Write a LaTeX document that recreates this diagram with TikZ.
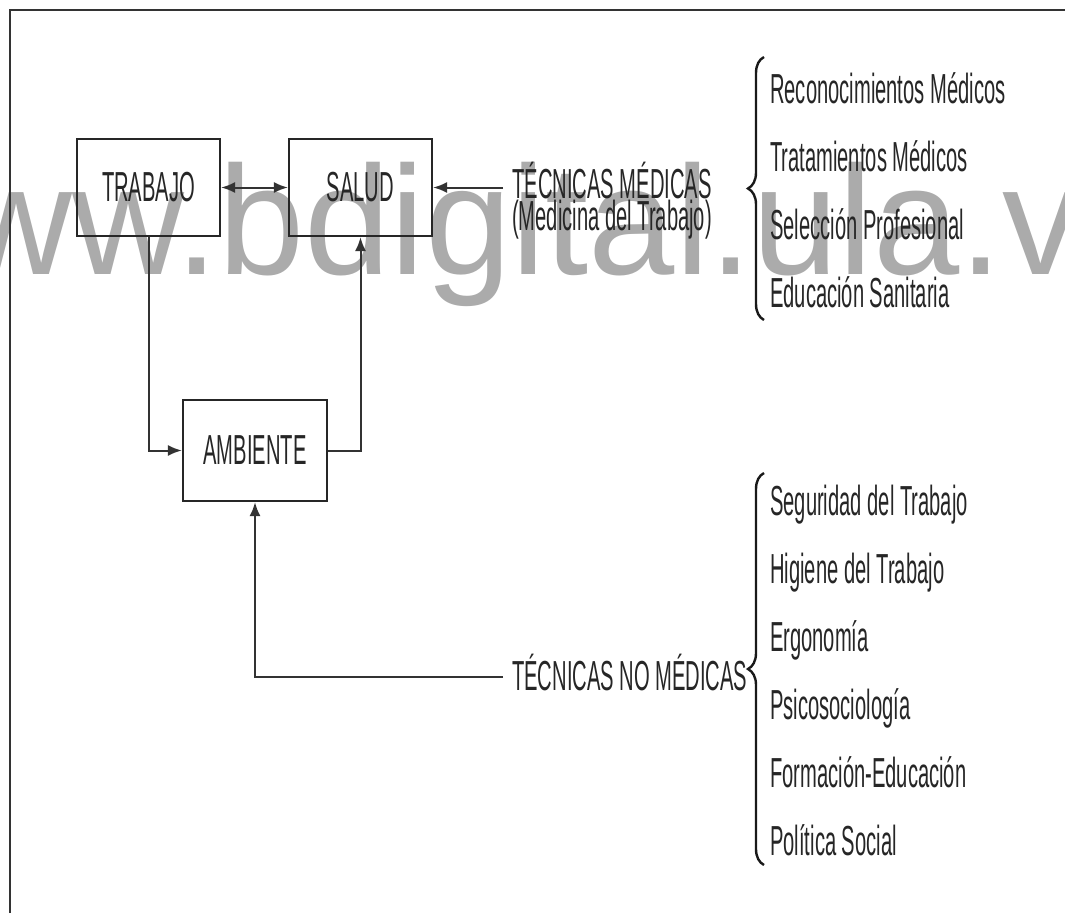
\documentclass[tikz,border=0pt]{standalone}
\usepackage{fontspec}
\setmainfont[FakeStretch=0.48]{Liberation Sans}
\newfontfamily\wmfont{Liberation Sans}
\usetikzlibrary{arrows.meta,decorations.pathreplacing,positioning}

\begin{document}
\begin{tikzpicture}[x=1pt,y=-1pt,
	boxnode/.style={rectangle,draw=black!85,line width=2.2pt,minimum width=143pt,minimum height=97pt,font=\fontsize{42}{32}\selectfont,text=black!85},
	textnode/.style={inner sep=0pt,font=\fontsize{42}{32}\selectfont,text=black!85},
	itemnode/.style={textnode,anchor=base west},
	link/.style={draw=black!80,line width=2pt},
	curly/.style={draw=black!90,line width=2.4pt,decorate,decoration={brace,amplitude=16pt}},
	>={Latex[length=14pt,width=11pt]}
	]
	\useasboundingbox (0,0) rectangle (1065,913);
	% watermark behind the diagram
	\node[anchor=base west,inner sep=0pt,text=black!33,font=\wmfont\fontsize{155}{160}\selectfont] (wm) at (-152,274) {www.bdigital.ula.ve};
	% frame
	\draw[line width=2.6pt,black!80] (10,913) -- (10,10) -- (1065,10);
	\path
	+(148.5,187.5) node[boxnode] (1) {TRABAJO}
	+(360.5,187.5) node[boxnode] (2) {SALUD}
	+(255,450.5) node[boxnode,minimum width=144pt,minimum height=101pt] (3) {AMBIENTE}
	+(612,201) node[textnode,align=center] (4) {TÉCNICAS MÉDICAS\\(Medicina del Trabajo)}
	+(512,690) node[itemnode] (5) {TÉCNICAS NO MÉDICAS}
	;
	\coordinate (m) at (503,187.5);
	\coordinate (n) at (503,677);
	\draw[link,<->] (1) -- (2);
	\draw[link,->] (m) -- (2);
	\draw[link,->] (1.south) |- (3.west);
	\draw[link,->] (3.east) -| (2.south);
	\draw[link,->] (n) -| (3.south);
	% braces and lists
	\draw[curly] (764,320) -- (764,57);
	\draw[curly] (764,865) -- (764,473);
	\foreach \t [count=\i] in {Reconocimientos Médicos,Tratamientos Médicos,Selección Profesional,Educación Sanitaria}
		\node[itemnode] (a\i) at (770,35+68*\i) {\t};
	\foreach \t [count=\i] in {Seguridad del Trabajo,Higiene del Trabajo,Ergonomía,Psicosociología,Formación-Educación,Política Social}
		\node[itemnode] (b\i) at (770,447+68*\i) {\t};
\end{tikzpicture}
\end{document}
